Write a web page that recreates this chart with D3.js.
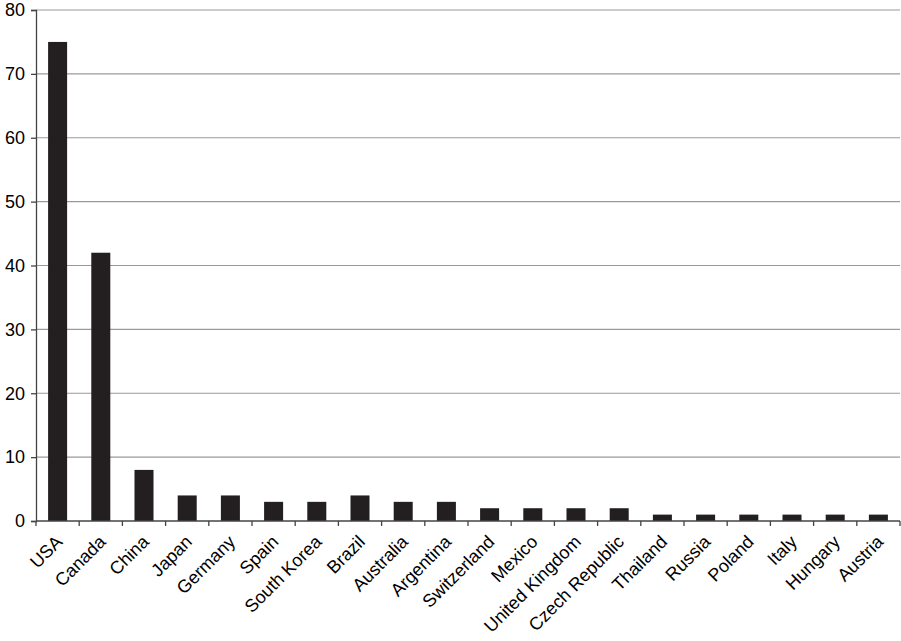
<!doctype html>
<html>
<head>
<style>
body { margin: 0; background: #fff; }
svg { display: block; }
.axis text { font-family: "Liberation Sans", Arial, sans-serif; fill: #000; }
</style>
<script src="https://d3js.org/d3.v7.min.js"></script>
</head>
<body>
<svg width="901" height="641"></svg>
<script>
var countries = ["USA", "Canada", "China", "Japan", "Germany", "Spain", "South Korea", "Brazil",
  "Australia", "Argentina", "Switzerland", "Mexico", "United Kingdom", "Czech Republic",
  "Thailand", "Russia", "Poland", "Italy", "Hungary", "Austria"];
var counts = [75, 42, 8, 4, 4, 3, 3, 4, 3, 3, 2, 2, 2, 2, 1, 1, 1, 1, 1, 1];
var yTicks = [0, 10, 20, 30, 40, 50, 60, 70, 80];

var svg = d3.select("svg"),
    mLeft = 36, mRight = 900, mTop = 10, mBottom = 521;

var x = d3.scaleBand().domain(countries).range([mLeft, mRight]).paddingInner(0.56).paddingOuter(0.28);
var y = d3.scaleLinear().domain([0, 80]).range([mBottom, mTop]);

// gridlines
svg.append("g")
  .selectAll("line")
  .data(yTicks.filter(function(d) { return d > 0; }))
  .enter().append("line")
  .attr("x1", mLeft).attr("x2", mRight)
  .attr("y1", function(d) { return y(d); })
  .attr("y2", function(d) { return y(d); })
  .attr("stroke", "#9a9a9a")
  .attr("stroke-width", 1.2);

// bars
svg.append("g")
  .selectAll("rect")
  .data(countries)
  .enter().append("rect")
  .attr("x", function(d) { return x(d); })
  .attr("y", function(d, i) { return y(counts[i]); })
  .attr("width", x.bandwidth())
  .attr("height", function(d, i) { return mBottom - y(counts[i]); })
  .attr("fill", "#231f20");

// y axis
var yAxis = svg.append("g")
  .attr("class", "axis")
  .attr("transform", "translate(" + mLeft + ",0)")
  .call(d3.axisLeft(y).tickValues(yTicks).tickSize(5).tickPadding(6));
yAxis.selectAll("text").attr("font-size", "18px");
yAxis.selectAll("line, path").attr("stroke", "#444").attr("stroke-width", 1.3);

// x axis, ticks sit between the bars
var edges = countries.map(function(d) { return x(d) - x.step() * x.paddingInner() / 2; });
edges.push(mRight);
var xg = svg.append("g").attr("class", "axis");
xg.append("line")
  .attr("x1", mLeft).attr("x2", mRight)
  .attr("y1", mBottom).attr("y2", mBottom)
  .attr("stroke", "#444").attr("stroke-width", 1.5);
xg.selectAll(".tk")
  .data(edges)
  .enter().append("line")
  .attr("class", "tk")
  .attr("x1", function(d) { return d; }).attr("x2", function(d) { return d; })
  .attr("y1", mBottom).attr("y2", mBottom + 5)
  .attr("stroke", "#444").attr("stroke-width", 1.3);
xg.selectAll(".lbl")
  .data(countries)
  .enter().append("text")
  .attr("class", "lbl")
  .attr("text-anchor", "end")
  .attr("font-size", "18px")
  .attr("transform", function(d) {
    var cx = x(d) + x.bandwidth() / 2 + 6;
    return "translate(" + cx + "," + (mBottom + 22) + ") rotate(-45)";
  })
  .text(function(d) { return d; });
</script>
</body>
</html>
